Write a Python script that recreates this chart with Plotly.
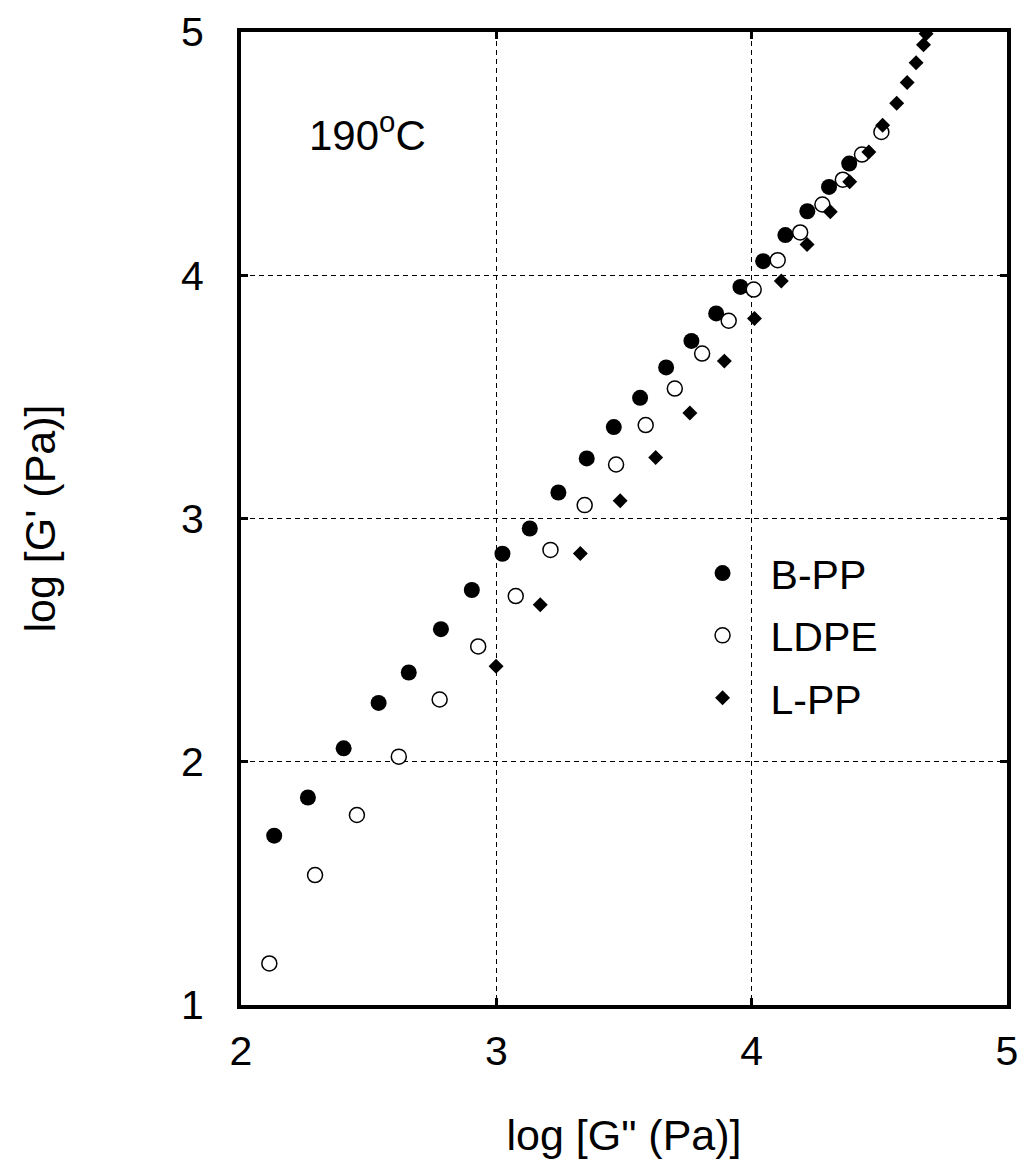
import plotly.graph_objects as go

# ---- data ----
bpp_x = [2.130, 2.262, 2.402, 2.539, 2.657, 2.783, 2.904, 3.024, 3.131, 3.243, 3.354,
         3.460, 3.563, 3.665, 3.764, 3.861, 3.956, 4.045, 4.132, 4.218, 4.303, 4.382]
bpp_y = [1.696, 1.853, 2.055, 2.242, 2.367, 2.545, 2.706, 2.855, 2.959, 3.107, 3.247,
         3.376, 3.496, 3.621, 3.730, 3.843, 3.952, 4.058, 4.165, 4.263, 4.363, 4.459]

ldpe_x = [2.111, 2.290, 2.454, 2.618, 2.778, 2.929, 3.076, 3.212, 3.346, 3.469, 3.585,
          3.699, 3.806, 3.910, 4.008, 4.102, 4.190, 4.277, 4.357, 4.432, 4.508]
ldpe_y = [1.171, 1.534, 1.781, 2.021, 2.256, 2.474, 2.681, 2.871, 3.055, 3.222, 3.384,
          3.534, 3.678, 3.813, 3.941, 4.062, 4.176, 4.291, 4.393, 4.496, 4.589]

lpp_x = [2.999, 3.172, 3.329, 3.485, 3.624, 3.758, 3.893, 4.011, 4.116, 4.217, 4.308,
         4.384, 4.459, 4.513, 4.568, 4.609, 4.644, 4.673, 4.683]
lpp_y = [2.393, 2.645, 2.856, 3.073, 3.251, 3.434, 3.647, 3.822, 3.976, 4.126, 4.261,
         4.384, 4.507, 4.617, 4.707, 4.792, 4.874, 4.948, 4.993]

series_names = ["B-PP", "LDPE", "L-PP"]
x_ticks = [2, 3, 4, 5]
y_ticks = [1, 2, 3, 4, 5]
x_title = 'log [G" (Pa)]'
y_title = "log [G' (Pa)]"
temp_label = "190<sup>o</sup>C"

FONT = "Liberation Sans, Arial, sans-serif"

fig = go.Figure()
fig.add_trace(go.Scatter(
    x=bpp_x, y=bpp_y, mode="markers", name=series_names[0], legendgroup="a",
    marker=dict(symbol="circle", size=16, color="black", line=dict(width=0))))
fig.add_trace(go.Scatter(
    x=ldpe_x, y=ldpe_y, mode="markers", name=series_names[1], legendgroup="b",
    marker=dict(symbol="circle", size=15, color="white", line=dict(width=1.5, color="black"))))
fig.add_trace(go.Scatter(
    x=lpp_x, y=lpp_y, mode="markers", name=series_names[2], legendgroup="c",
    marker=dict(symbol="diamond", size=11.5, color="black", line=dict(width=0))))

axis_common = dict(
    showline=True, linewidth=4, linecolor="black", mirror="ticks",
    ticks="inside", ticklen=7, tickwidth=3, tickcolor="black",
    showgrid=True, gridcolor="black", gridwidth=1, griddash="5px,4px",
    zeroline=False, dtick=1, automargin=False, ticklabeloverflow="allow",
    tickfont=dict(family=FONT, size=41, color="black"),
)

fig.update_xaxes(range=[2, 5], tickvals=x_ticks, ticklabelstandoff=7,
                 title=dict(text=x_title, font=dict(family=FONT, size=43, color="black"), standoff=54),
                 **axis_common)
fig.update_yaxes(range=[1, 5], tickvals=y_ticks, ticklabelstandoff=25,
                 title=dict(text=y_title, font=dict(family=FONT, size=43, color="black"), standoff=113),
                 **axis_common)

fig.add_annotation(x=2.494, y=4.589, xref="x", yref="y", text=temp_label, showarrow=False,
                   font=dict(family=FONT, size=42, color="black"))

# the page body adds an 8px margin, so the figure is 16px smaller and the margins are shifted
fig.update_layout(
    width=1010, height=1151,
    margin=dict(l=233, r=11, t=24, b=154, autoexpand=False),
    paper_bgcolor="white", plot_bgcolor="white",
    showlegend=True,
    legend=dict(x=0.566, y=0.478, xanchor="left", yanchor="top",
                bgcolor="rgba(0,0,0,0)", borderwidth=0, itemwidth=86,
                tracegroupgap=6,
                font=dict(family=FONT, size=41, color="black")),
)

fig.write_html("out.html")
